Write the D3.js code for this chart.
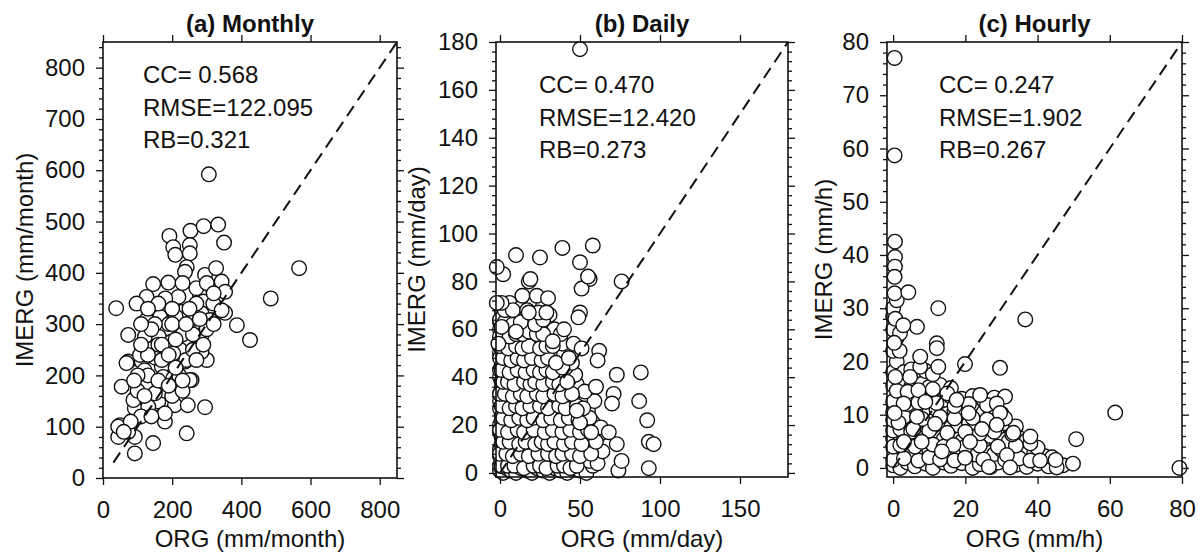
<!DOCTYPE html>
<html>
<head>
<meta charset="utf-8">
<script src="https://d3js.org/d3.v7.min.js"></script>
<style>
  body { margin: 0; background: #fff; }
  svg text { font-family: Arial, "Liberation Sans", sans-serif; fill: #111; }
</style>
</head>
<body>
<svg id="chart" width="1202" height="556"></svg>
<script>
// ---- data ----
const panelTitles = ['(a) Monthly', '(b) Daily', '(c) Hourly'];
const xLabels = ['ORG (mm/month)', 'ORG (mm/day)', 'ORG (mm/h)'];
const yLabels = ['IMERG (mm/month)', 'IMERG (mm/day)', 'IMERG (mm/h)'];
const statLines = [
  ['CC= 0.568', 'RMSE=122.095', 'RB=0.321'],
  ['CC= 0.470', 'RMSE=12.420', 'RB=0.273'],
  ['CC= 0.247', 'RMSE=1.902', 'RB=0.267']
];

const monthlyXTicks = [0, 200, 400, 600, 800];
const monthlyYTicks = [0, 100, 200, 300, 400, 500, 600, 700, 800];
const dailyXTicks = [0, 50, 100, 150];
const dailyYTicks = [0, 20, 40, 60, 80, 100, 120, 140, 160, 180];
const hourlyXTicks = [0, 20, 40, 60, 80];
const hourlyYTicks = [0, 10, 20, 30, 40, 50, 60, 70, 80];

// 1:1 reference line extent per panel
const oneToOne = [[30, 850], [0, 180], [0, 80]];

// [ORG, IMERG]
const monthlyPoints = [
  [306,592],[192,472],[253,482],[291,491],[333,494],[350,459],[203,450],[209,435],[251,454],[251,438],
  [242,411],[237,402],[295,396],[327,409],[343,383],[353,363],[567,409],[485,350],[145,378],[189,381],
  [126,353],[97,340],[38,331],[218,353],[280,357],[290,344],[218,324],[189,331],[348,324],[319,340],
  [126,308],[353,322],[316,307],[387,298],[425,269],[73,279],[121,275],[162,275],[198,266],[223,292],
  [247,266],[285,279],[145,253],[223,250],[276,253],[300,230],[73,227],[112,227],[170,217],[237,227],
  [256,191],[174,197],[126,185],[203,175],[54,178],[92,155],[160,149],[208,142],[245,142],[295,138],
  [92,136],[131,139],[174,123],[179,110],[49,103],[44,80],[92,80],[145,68],[242,87],[92,48],[73,90],
  [165,314],[227,324],[285,321],[309,308],[343,327],[68,224],[203,243],[285,246],[203,194],[251,191],
  [88,152],[179,126],[44,100],[107,240],
  [120,210],[150,235],[160,260],[190,300],[210,315],[230,280],[260,310],[270,340],[180,170],[200,160],
  [150,165],[130,200],[100,200],[110,120],[80,110],[60,90],[100,170],[170,230],[240,230],[260,250],
  [220,200],[210,215],[150,300],[180,350],[270,370],[300,380],[320,360],[230,380],[200,300],[300,290],
  [320,300],[260,280],[130,240],[160,190],[190,180],[230,170],
  [140,290],[170,260],[200,330],[240,300],[280,310],[110,260],[160,340],[210,270],[250,330],[120,160],
  [140,120],[90,190],[230,190],[270,230],[190,240],[130,330],[110,300],[290,260]
];

const dailyPoints = [
  // dense body
  [0,1],[2,0],[4,2],[7,1],[10,0],[13,2],[17,1],[20,0],[23,2],[27,1],[31,0],[34,2],[38,1],[42,0],[46,2],[50,1],[54,0],[58,3],
  [1,5],[3,6],[6,4],[9,6],[12,5],[16,4],[19,6],[22,5],[26,4],[29,6],[33,5],[37,4],[41,6],[44,5],[48,4],[52,6],[56,5],[61,4],
  [0,10],[2,9],[5,11],[8,9],[11,10],[15,11],[18,9],[21,10],[25,11],[28,9],[32,10],[36,11],[39,9],[43,10],[47,11],[51,9],[55,10],[59,12],[64,9],
  [1,15],[4,14],[7,16],[10,15],[14,14],[17,16],[20,15],[24,14],[27,16],[31,15],[35,14],[38,16],[42,15],[46,14],[49,16],[53,15],[57,14],[62,16],
  [0,20],[3,21],[6,19],[9,20],[13,21],[16,19],[19,20],[23,21],[26,19],[30,20],[34,21],[37,19],[41,20],[45,22],[48,19],[52,20],[58,21],[63,19],
  [1,25],[4,26],[8,24],[11,25],[15,26],[18,24],[22,25],[25,26],[29,24],[33,25],[36,26],[40,24],[44,25],[47,27],[51,24],[55,26],
  [0,30],[2,31],[5,29],[9,30],[12,31],[16,29],[20,30],[23,31],[27,29],[31,30],[35,31],[38,29],[42,30],[46,32],[50,29],[54,31],[59,30],
  [1,35],[4,36],[7,34],[11,35],[14,36],[18,34],[21,35],[25,37],[29,34],[32,35],[36,36],[40,34],[44,35],[48,37],[53,34],
  [0,40],[3,41],[6,39],[10,40],[13,42],[17,39],[20,41],[24,40],[28,39],[31,41],[35,40],[39,42],[43,39],[47,41],
  [1,45],[4,46],[8,44],[12,46],[15,45],[19,44],[22,46],[26,45],[30,44],[34,47],[37,45],[41,44],[45,46],
  [0,50],[2,51],[6,49],[9,51],[13,50],[17,49],[21,51],[24,50],[28,52],[32,49],[36,51],[40,50],
  [1,55],[4,56],[8,54],[11,56],[15,55],[19,57],[23,54],[27,56],[31,55],[35,57],[39,54],
  [0,60],[3,61],[7,59],[12,61],[16,60],[20,62],[25,59],[29,61],[34,60],
  [1,65],[5,66],[10,64],[14,66],[19,65],[24,64],[31,66],
  [0,70],[6,71],[13,69],[21,72],[27,70],
  [0,3],[0,7],[1,12],[0,17],[1,22],[0,27],[0,33],[1,38],[0,43],[0,48],[1,53],[0,57],[0,63],[1,68],
  // second layer, offset
  [1,3],[5,3],[9,3],[15,2],[21,3],[25,3],[29,2],[36,3],[40,3],[44,2],[48,3],
  [0,8],[4,8],[8,7],[13,8],[18,7],[24,8],[30,8],[35,7],[39,8],[45,8],[50,7],[57,8],
  [2,13],[6,13],[12,12],[16,13],[22,12],[26,13],[30,12],[34,13],[40,12],[45,13],[51,12],[60,13],
  [0,18],[5,17],[11,18],[15,17],[21,18],[28,17],[33,18],[39,17],[44,18],[50,17],[55,18],
  [2,23],[7,22],[12,23],[17,22],[21,23],[27,22],[32,23],[38,22],[43,23],[49,22],[56,23],
  [1,28],[6,27],[10,28],[14,27],[19,28],[25,28],[30,27],[37,28],[41,27],[48,28],[52,27],
  [0,33],[3,33],[8,32],[13,33],[17,32],[23,33],[27,32],[34,33],[39,32],[45,33],
  [2,38],[5,38],[9,37],[15,38],[19,37],[22,38],[27,37],[33,38],[37,37],[42,38],
  [1,43],[6,42],[11,43],[16,42],[21,43],[25,42],[29,43],[33,42],[39,44],
  [2,48],[7,47],[11,48],[15,47],[20,48],[26,47],[30,48],[35,46],[43,48],
  [0,53],[5,52],[10,53],[14,52],[18,53],[25,52],[29,53],[33,53],
  [2,58],[6,57],[10,58],[14,58],[18,59],[23,58],[27,58],[38,58],
  [0,64],[3,63],[8,62],[13,63],[22,62],[27,64],
  [3,68],[8,68],[17,68],[24,67],
  // edges and outliers
  [2,83],[18,80],[56,81],[51,77],[14,74],[23,74],[30,73],[1,71],[-2,71],[50,67],[49,65],[18,67],[29,67],
  [1,61],[40,60],[10,59],[-1,54],[33,55],[46,54],[51,52],[62,51],[61,47],[88,42],[73,41],[71,33],[70,29],
  [87,30],[92,22],[93,13],[96,12],[93,2],[74,1],[76,5],[73,12],[68,17],[57,17],[50,21],[48,26],[60,36],
  [50,177],[-2,86],[10,91],[25,90],[39,94],[50,88],[58,95],[55,82],[19,81],[76,80]
];

const hourlyPoints = [
  // dense body
  [0,0.5],[2,0],[4,1],[6,0.3],[9,0.8],[11,0],[14,1],[16,0.4],[19,0.9],[22,0],[24,0.7],[27,0.2],[29,1],[34,0.6],[37,0.2],[40,0.8],[43,0.3],[47,0.5],
  [1,3],[3,3.5],[5,2.5],[8,3],[10,3.4],[12,2.6],[15,3.2],[18,2.8],[21,3.3],[23,2.5],[26,3],[28,2.6],[30,3.4],[33,2.8],[36,3.2],[39,2.6],[42,2.2],[44,2],
  [0,5.5],[2,6],[4,5],[7,5.8],[9,5.2],[12,6],[14,5.4],[17,5.8],[19,5],[22,5.6],[25,5.2],[27,6],[30,5.4],[32,5],[35,5.6],[37,5.2],
  [1,8],[3,8.4],[6,7.6],[8,8.2],[11,7.8],[13,8.4],[16,7.6],[18,8],[21,8.3],[23,7.7],[26,8.2],[29,7.6],[31,8.4],[34,7.8],
  [0,10.5],[2,11],[5,10.2],[7,10.8],[10,10.4],[12,11],[15,10.2],[17,10.8],[20,10.5],[22,11],[25,10.4],[27,10.8],[30,10.2],
  [1,13],[3,13.5],[6,12.8],[9,13.2],[11,13.6],[14,12.8],[16,13.4],[19,13],[22,13.5],[25,12.8],[28,13.2],
  [0,15.5],[2,16],[5,15.2],[8,15.8],[10,15.2],[13,15.6],[16,15],
  [0,18],[1,20],[0,22],[1,24.5],[0,26],[0,28.5],[0,30],[1,31.5],[3,18],[5,18.5],[9,18.2],[11,17.6],
  // second layer, offset
  [0,1.5],[3,1.8],[7,1.4],[10,2],[13,1.6],[17,1.4],[20,2],[25,1.6],[31,1.5],[35,1.8],[38,1.4],
  [0,4],[2,4.3],[6,4],[11,4.4],[14,4],[20,4],[24,4.2],[29,4],[34,4.2],[40,3.8],
  [0,7],[2,7.3],[5,6.8],[10,7],[15,6.6],[20,6.8],[24,6.5],[28,6.8],[33,6.3],
  [0,9],[3,9.6],[8,9.2],[13,9.6],[17,9.3],[22,9.4],[26,9.1],[31,9.3],
  [0,12.5],[4,12],[7,12.3],[12,12.2],[17,11.6],[21,12],[26,11.8],
  [1,14.5],[4,14.3],[7,14.6],[11,14.8],[15,14],
  // edges and outliers
  [0.4,77],[0.4,58.7],[0.5,42.5],[0.5,39.6],[0.5,37.8],[0.4,35.9],[0.4,32.8],[4.2,33],[12.5,30],[36.6,27.9],
  [6.6,26.5],[0.6,28],[1.9,25.3],[2.8,26.8],[12.1,23.4],[12.1,22.5],[1.8,22],[0.3,23.5],[19.9,19.5],[29.6,18.8],
  [12.5,19],[7.5,19],[7.5,20.9],[0.6,17.1],[4.7,17.1],[61.5,10.4],[50.7,5.4],[49.8,0.8],[79.3,0],[45.3,0.1],
  [45,1.5],[40.7,1.4],[38,4.6],[38,5.9],[33.3,6.6],[31,13.4],[28.7,12.1],[24.1,13.7],[20.9,10.3],[17.6,12.8],
  [29.6,10.3],[28.7,8.1],[24.6,7.3],[21.3,4.9],[16.7,4.3],[13.5,3.1],[19.9,1.9],[31.5,2.4],[32.4,0.1],[26.5,0.2],
  [2.9,12.1],[8.9,12.4],[11.6,8.3],[1.5,8.5],[5.6,7.3],[7.9,4.9],[6.6,9.6],[3,4.9],[0.4,10.3]
];

// ---- layout ----
const panels = [
  { points: monthlyPoints, xTicks: monthlyXTicks, yTicks: monthlyYTicks, xDomain: [0, 850], yDomain: [0, 850],
    yMinor: 20, left: 103, right: 397, top: 42, bottom: 478, yLabelX: 33, statX: 143, statY: 83 },
  { points: dailyPoints, xTicks: dailyXTicks, yTicks: dailyYTicks, xDomain: [-2.5, 180], yDomain: [-1.7, 180],
    yMinor: 4, left: 496, right: 788, top: 42, bottom: 477, yLabelX: 425, statX: 539, statY: 93 },
  { points: hourlyPoints, xTicks: hourlyXTicks, yTicks: hourlyYTicks, xDomain: [-1.7, 80], yDomain: [-1.7, 80],
    yMinor: 2, left: 887, right: 1182, top: 42, bottom: 477, yLabelX: 832, statX: 939, statY: 93 }
];

const svg = d3.select('#chart');
svg.append('rect').attr('width', 1202).attr('height', 556).attr('fill', '#fff');

panels.forEach((p, i) => {
  const x = d3.scaleLinear().domain(p.xDomain).range([p.left, p.right]);
  const y = d3.scaleLinear().domain(p.yDomain).range([p.bottom, p.top]);
  const g = svg.append('g');

  // points
  g.append('g').selectAll('circle')
    .data(p.points)
    .enter()
    .append('circle')
    .attr('cx', d => x(d[0]))
    .attr('cy', d => y(d[1]))
    .attr('r', 7.3)
    .attr('fill', '#fff')
    .attr('stroke', '#111')
    .attr('stroke-width', 1.4);

  // 1:1 line, drawn over the points
  const lo = oneToOne[i][0], hi = oneToOne[i][1];
  g.append('line')
    .attr('x1', x(lo)).attr('y1', y(lo))
    .attr('x2', x(hi)).attr('y2', y(hi))
    .attr('stroke', '#111')
    .attr('stroke-width', 2)
    .attr('stroke-dasharray', '12,7');

  // minor ticks on y (left + right)
  const yMinorVals = d3.range(0, p.yDomain[1] + 0.001, p.yMinor).filter(v => !p.yTicks.includes(v));
  const noLabel = () => '';
  [d3.axisLeft(y), d3.axisRight(y)].forEach((ax, k) => {
    g.append('g')
      .attr('transform', `translate(${k === 0 ? p.left : p.right},0)`)
      .call(ax.tickValues(yMinorVals).tickSize(4).tickFormat(noLabel))
      .call(s => s.select('.domain').remove());
  });

  // major ticks
  g.append('g')
    .attr('transform', `translate(${p.left},0)`)
    .call(d3.axisLeft(y).tickValues(p.yTicks).tickSize(7).tickPadding(11))
    .call(s => s.select('.domain').remove());
  g.append('g')
    .attr('transform', `translate(${p.right},0)`)
    .call(d3.axisRight(y).tickValues(p.yTicks).tickSize(7).tickFormat(noLabel))
    .call(s => s.select('.domain').remove());
  g.append('g')
    .attr('transform', `translate(0,${p.bottom})`)
    .call(d3.axisBottom(x).tickValues(p.xTicks).tickSize(7).tickPadding(16))
    .call(s => s.select('.domain').remove());
  g.append('g')
    .attr('transform', `translate(0,${p.top})`)
    .call(d3.axisTop(x).tickValues(p.xTicks).tickSize(7).tickFormat(noLabel))
    .call(s => s.select('.domain').remove());

  g.selectAll('.tick line').attr('stroke', '#111').attr('stroke-width', 1.3);
  g.selectAll('.tick text').style('font-size', '24px').attr('fill', '#111');

  // frame
  g.append('rect')
    .attr('x', p.left).attr('y', p.top)
    .attr('width', p.right - p.left).attr('height', p.bottom - p.top)
    .attr('fill', 'none').attr('stroke', '#111').attr('stroke-width', 1.6);

  // title
  g.append('text')
    .attr('x', (p.left + p.right) / 2).attr('y', 32)
    .attr('text-anchor', 'middle')
    .style('font-size', '24px').style('font-weight', 'bold')
    .text(panelTitles[i]);

  // axis labels
  g.append('text')
    .attr('x', (p.left + p.right) / 2).attr('y', 547)
    .attr('text-anchor', 'middle')
    .style('font-size', '24px')
    .text(xLabels[i]);
  g.append('text')
    .attr('transform', `translate(${p.yLabelX},${(p.top + p.bottom) / 2}) rotate(-90)`)
    .attr('text-anchor', 'middle')
    .style('font-size', '24px')
    .text(yLabels[i]);

  // stats
  statLines[i].forEach((line, j) => {
    g.append('text')
      .attr('x', p.statX).attr('y', p.statY + j * 32.5)
      .style('font-size', '24px')
      .text(line);
  });
});
</script>
</body>
</html>
